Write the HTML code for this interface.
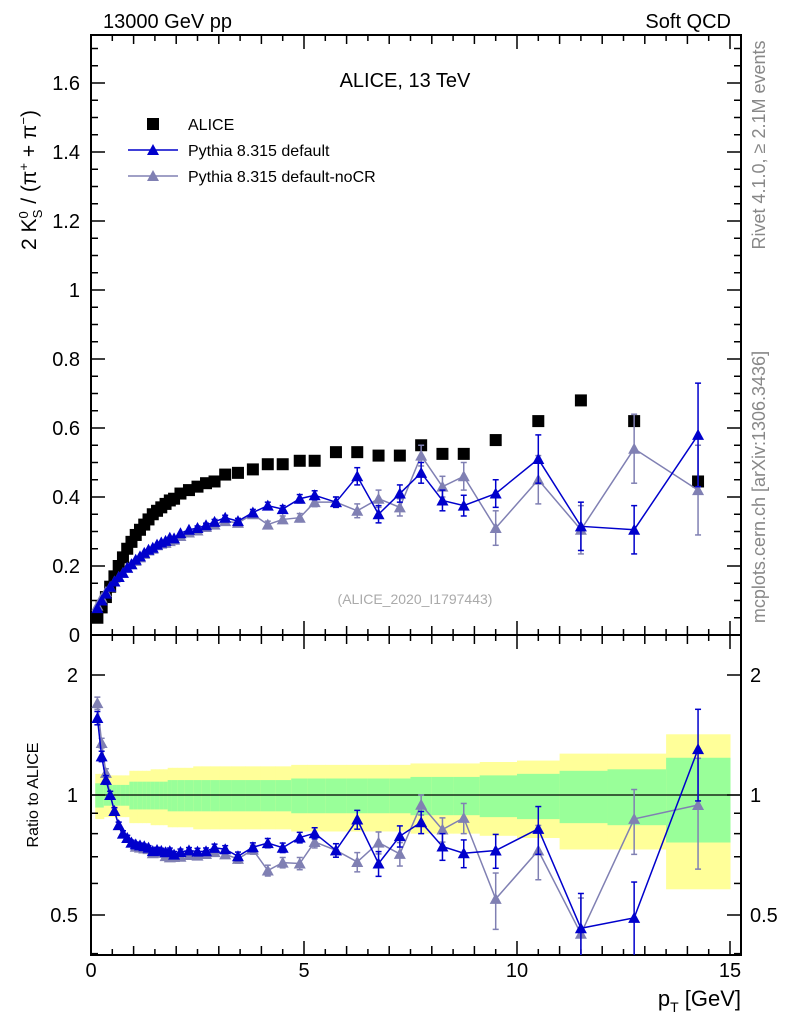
<!DOCTYPE html>
<html><head><meta charset="utf-8"><style>body{margin:0;background:#fff}svg{display:block;font-family:"Liberation Sans",sans-serif}</style></head>
<body>
<svg id="c" width="786" height="1024" viewBox="0 0 786 1024">
<defs>
<clipPath id="cm"><rect x="91" y="35" width="650" height="600"/></clipPath>
<clipPath id="cr"><rect x="91" y="635" width="650" height="320"/></clipPath>
</defs>
<g id="bands" clip-path="url(#cr)"></g>
<g id="grid"></g>
<rect x="91" y="35" width="650" height="600" fill="none" stroke="#000" stroke-width="2"/>
<rect x="91" y="635" width="650" height="320" fill="none" stroke="#000" stroke-width="2"/>
<line x1="91" x2="741" y1="795" y2="795" stroke="#000" stroke-width="1.2"/>
<g id="marks"></g>
<text x="103" y="28" font-size="20">13000 GeV pp</text>
<text x="731" y="28" font-size="20" text-anchor="end">Soft QCD</text>
<text x="405" y="87" font-size="20" text-anchor="middle">ALICE, 13 TeV</text>
<text x="415" y="604" font-size="14" fill="#aaa" text-anchor="middle">(ALICE_2020_I1797443)</text>
<text transform="translate(36,180) rotate(-90)" font-size="21" text-anchor="middle">2 K<tspan font-size="13" dy="-8">0</tspan><tspan font-size="13" dx="-7" dy="14">S</tspan><tspan dy="-6"> / (π</tspan><tspan font-size="13" dy="-8">+</tspan><tspan dy="8"> + π</tspan><tspan font-size="13" dy="-8">−</tspan><tspan dy="8">)</tspan></text>
<text transform="translate(38,795) rotate(-90)" font-size="16" text-anchor="middle">Ratio to ALICE</text>
<text transform="translate(765,145) rotate(-90)" font-size="18" fill="#888" text-anchor="middle">Rivet 4.1.0, ≥ 2.1M events</text>
<text transform="translate(765,487) rotate(-90)" font-size="18" fill="#888" text-anchor="middle">mcplots.cern.ch [arXiv:1306.3436]</text>
<text x="741" y="1006" font-size="22" text-anchor="end">p<tspan font-size="14" dy="6">T</tspan><tspan dy="-6"> [GeV]</tspan></text>
<g>
<rect x="147" y="118" width="12" height="12" fill="#000"/>
<text x="188" y="130" font-size="16">ALICE</text>
<line x1="128" x2="178" y1="150" y2="150" stroke="#0000cc" stroke-width="1.5"/>
<polygon points="147,155 159,155 153,144" fill="#0000cc"/>
<text x="188" y="156" font-size="16">Pythia 8.315 default</text>
<line x1="128" x2="178" y1="176" y2="176" stroke="#8080b3" stroke-width="1.5"/>
<polygon points="147,181 159,181 153,170" fill="#8080b3"/>
<text x="188" y="182" font-size="16">Pythia 8.315 default-noCR</text>
</g>
</svg>
<script>
const pt=[0.15,0.25,0.35,0.45,0.55,0.65,0.75,0.85,0.95,1.05,1.15,1.25,1.35,1.45,1.55,1.65,1.75,1.85,1.95,2.1,2.3,2.5,2.7,2.9,3.15,3.45,3.8,4.15,4.5,4.9,5.25,5.75,6.25,6.75,7.25,7.75,8.25,8.75,9.5,10.5,11.5,12.75,14.25];
const alice=[0.05,0.08,0.11,0.14,0.17,0.20,0.225,0.25,0.27,0.29,0.305,0.32,0.335,0.35,0.36,0.37,0.38,0.39,0.395,0.41,0.42,0.43,0.44,0.445,0.465,0.47,0.48,0.495,0.495,0.505,0.505,0.53,0.53,0.52,0.52,0.55,0.525,0.525,0.565,0.62,0.68,0.62,0.445];
const aliceTot=[0.13,0.13,0.12,0.12,0.12,0.12,0.12,0.12,0.15,0.15,0.15,0.15,0.15,0.16,0.16,0.16,0.16,0.17,0.17,0.17,0.17,0.18,0.18,0.18,0.18,0.18,0.18,0.18,0.18,0.19,0.19,0.19,0.19,0.19,0.19,0.2,0.2,0.2,0.21,0.22,0.27,0.27,0.42];
const aliceStat=[0.07,0.07,0.06,0.06,0.06,0.06,0.06,0.06,0.08,0.08,0.08,0.08,0.08,0.08,0.08,0.08,0.08,0.09,0.09,0.09,0.09,0.09,0.09,0.09,0.09,0.09,0.09,0.09,0.09,0.1,0.1,0.1,0.1,0.1,0.1,0.11,0.11,0.11,0.12,0.13,0.15,0.16,0.24];
const pyDef=[0.078,0.1,0.12,0.14,0.155,0.168,0.18,0.195,0.205,0.218,0.228,0.238,0.247,0.253,0.262,0.268,0.273,0.282,0.28,0.295,0.305,0.31,0.318,0.328,0.34,0.33,0.355,0.375,0.365,0.395,0.405,0.385,0.46,0.35,0.41,0.47,0.39,0.375,0.41,0.51,0.315,0.305,0.58];
const pyDefErr=[0.003,0.003,0.003,0.003,0.003,0.003,0.003,0.003,0.003,0.003,0.003,0.003,0.003,0.004,0.004,0.004,0.004,0.005,0.005,0.005,0.005,0.006,0.006,0.007,0.007,0.008,0.009,0.01,0.01,0.012,0.013,0.015,0.025,0.025,0.025,0.03,0.03,0.03,0.04,0.07,0.07,0.07,0.15];
const pyNoCR=[0.085,0.108,0.125,0.14,0.155,0.168,0.18,0.195,0.205,0.215,0.225,0.235,0.245,0.25,0.26,0.265,0.267,0.272,0.276,0.287,0.297,0.303,0.313,0.32,0.33,0.325,0.35,0.32,0.335,0.34,0.385,0.385,0.36,0.395,0.37,0.52,0.43,0.46,0.31,0.45,0.305,0.54,0.42];
const pyNoCRErr=[0.003,0.003,0.003,0.003,0.003,0.003,0.003,0.003,0.003,0.003,0.003,0.003,0.003,0.004,0.004,0.004,0.004,0.005,0.005,0.005,0.005,0.006,0.006,0.007,0.007,0.008,0.009,0.01,0.01,0.012,0.013,0.015,0.02,0.025,0.025,0.03,0.03,0.04,0.05,0.07,0.07,0.1,0.13];
const xTicks=[0,5,10,15];
const yTicks=[0,0.2,0.4,0.6,0.8,1,1.2,1.4,1.6];
const rTicks=[0.5,1,2];

const NS='http://www.w3.org/2000/svg';
const X=v=>91+v*42.6;
const Y=v=>635-v*345;
const R=v=>795-Math.log2(v)*120;
function mk(tag,at,parent){const e=document.createElementNS(NS,tag);for(const k in at)e.setAttribute(k,at[k]);parent.appendChild(e);return e;}
const svg=document.getElementById('c'),grid=document.getElementById('grid'),marks=document.getElementById('marks'),bands=document.getElementById('bands');
const edges=[0.1];for(let i=0;i<pt.length-1;i++)edges.push((pt[i]+pt[i+1])/2);edges.push(15);
for(let i=0;i<pt.length;i++){
  const x0=X(edges[i]),x1=X(edges[i+1]);
  const y=mk('rect',{x:x0,y:R(1+aliceTot[i]),width:x1-x0+0.5,height:R(1-aliceTot[i])-R(1+aliceTot[i]),fill:'#ffff99'},bands);
  
  
  const g=mk('rect',{x:x0,y:R(1+aliceStat[i]),width:x1-x0+0.5,height:R(1-aliceStat[i])-R(1+aliceStat[i]),fill:'#99ff99'},bands);
  
  
}
for(let v=0;v<=15.01;v+=0.5){const maj=Math.abs(v%5)<0.01,len=maj?14:(Math.abs(v%1)<0.01?9:6);
  [[35,1],[635,-1],[635,1],[955,-1]].forEach(([yy,d])=>{const t=mk('line',{x1:X(v),x2:X(v),y1:yy,y2:yy+d*len,stroke:'#000','stroke-width':1.5},grid);
  });}
for(let v=0;v<=1.74;v+=0.05){const maj=Math.abs((v/0.2)-Math.round(v/0.2))<0.01,len=maj?14:7;
  [[91,1],[741,-1]].forEach(([xx,d])=>{const t=mk('line',{x1:xx,x2:xx+d*len,y1:Y(v),y2:Y(v),stroke:'#000','stroke-width':1.5},grid);
  });}
[0.4,0.5,0.6,0.7,0.8,0.9,1,2].forEach(v=>{const maj=[0.5,1,2].includes(v),len=maj?14:7;
  [[91,1],[741,-1]].forEach(([xx,d])=>{const t=mk('line',{x1:xx,x2:xx+d*len,y1:R(v),y2:R(v),stroke:'#000','stroke-width':1.5},grid);
  });});
xTicks.forEach(v=>{const t=mk('text',{x:X(v),y:977,'font-size':20,'text-anchor':'middle'},svg);t.textContent=v;
  });
yTicks.forEach(v=>{const t=mk('text',{x:80,y:Y(v)+7,'font-size':20,'text-anchor':'end'},svg);t.textContent=v;
  });
rTicks.forEach(v=>{[[78,'end'],[750,'start']].forEach(([xx,a])=>{const t=mk('text',{x:xx,y:R(v)+7,'font-size':20,'text-anchor':a},svg);t.textContent=v;
  });});
const gm=mk('g',{'clip-path':'url(#cm)'},marks),gr=mk('g',{'clip-path':'url(#cr)'},marks);
function series(vals,errs,col,nm){
  [[gm,v=>v,(v,e)=>e],[gr,(v,i)=>v/alice[i],(v,e,i)=>e/alice[i]]].forEach(([g,f,fe],pi)=>{
    const F=pi?R:Y;
    const pts=vals.map((v,i)=>X(pt[i])+','+F(f(v,i))).join(' ');
    const l=mk('polyline',{points:pts,fill:'none',stroke:col,'stroke-width':1.5},g);
    
    vals.forEach((v,i)=>{const x=X(pt[i]),c=f(v,i),e=fe(v,errs[i],i);
      const lo=Math.max(c-e,0.01);
      if(F(lo)-F(c+e)>4){const b=mk('line',{x1:x,x2:x,y1:F(c+e),y2:F(lo),stroke:col,'stroke-width':1.5},g);
        
        [c+e,lo].forEach(q=>{const cap=mk('line',{x1:x-3,x2:x+3,y1:F(q),y2:F(q),stroke:col,'stroke-width':1.5},g);
        });}
      const y=F(c);const m=mk('polygon',{points:`${x-6},${y+5} ${x+6},${y+5} ${x},${y-6}`,fill:col},g);
      });
  });
}
alice.forEach((v,i)=>{const s=mk('rect',{x:X(pt[i])-6,y:Y(v)-6,width:12,height:12,fill:'#000'},gm);
  });
series(pyNoCR,pyNoCRErr,'#8080b3','pythia-nocr');
series(pyDef,pyDefErr,'#0000cc','pythia-default');
</script>
</body></html>
